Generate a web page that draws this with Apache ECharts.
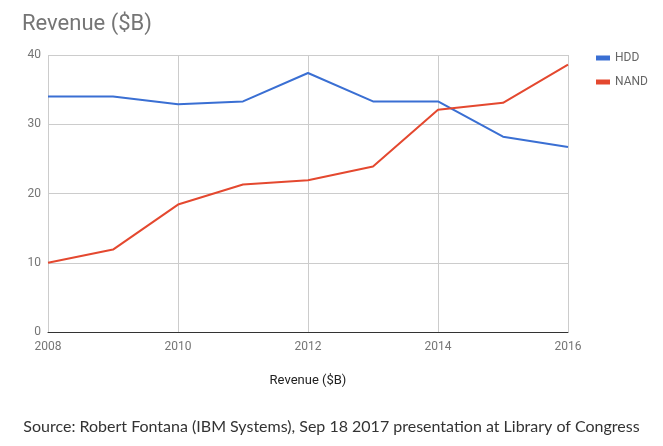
<!DOCTYPE html>
<html><head><meta charset="utf-8">
<script src="https://cdn.jsdelivr.net/npm/echarts@6/dist/echarts.min.js"></script>
<style>html,body{margin:0;padding:0;background:#fff}#c{width:663px;height:446px}</style>
</head><body><div id="c"></div>
<script>
const years = [2008, 2009, 2010, 2011, 2012, 2013, 2014, 2015, 2016];
const hdd = [34.0, 34.0, 32.9, 33.3, 37.4, 33.3, 33.3, 28.2, 26.7];
const nand = [10.0, 11.9, 18.4, 21.3, 21.9, 23.9, 32.1, 33.1, 38.6];
const seriesNames = ['HDD', 'NAND'];
const titleText = 'Revenue ($B)';
const axisName = 'Revenue ($B)';
const sourceText = 'Source: Robert Fontana (IBM Systems), Sep 18 2017 presentation at Library of Congress';

const chart = echarts.init(document.getElementById('c'), null, {renderer: 'canvas'});
chart.setOption({
  animation: false,
  backgroundColor: '#fff',
  title: [{
    text: titleText, left: 17, top: 8,
    textStyle: {fontFamily: 'Roboto', fontSize: 22, fontWeight: 'normal', color: '#757575'}
  }, {
    text: sourceText, left: 'center', top: 414,
    textStyle: {fontFamily: 'Lato', fontSize: 16, fontWeight: 'normal', color: '#333'}
  }],
  legend: {
    orient: 'vertical', left: 591, top: 47, itemWidth: 14, itemHeight: 5, itemGap: 12,
    icon: 'rect',
    textStyle: {fontFamily: 'Roboto', fontSize: 12, color: '#666', padding: [0, 0, 0, 0]},
    data: seriesNames
  },
  grid: {left: 48, right: 95, top: 55, bottom: 114, containLabel: false},
  xAxis: {
    type: 'value', min: 2008, max: 2016, interval: 2,
    name: axisName, nameLocation: 'middle', nameGap: 42,
    nameTextStyle: {fontFamily: 'Roboto', fontSize: 13, color: '#222'},
    axisLine: {show: true, lineStyle: {color: '#333', width: 1}},
    axisTick: {show: false},
    axisLabel: {fontFamily: 'Roboto', fontSize: 12, color: '#757575', margin: 9, formatter: v => String(v)},
    splitLine: {show: true, lineStyle: {color: '#ccc', width: 1}}
  },
  yAxis: {
    type: 'value', min: 0, max: 40, interval: 10,
    axisLine: {show: false},
    axisTick: {show: false},
    axisLabel: {fontFamily: 'Roboto', fontSize: 12, color: '#757575', margin: 7},
    splitLine: {show: true, lineStyle: {color: '#ccc', width: 1}}
  },
  series: [{
    name: seriesNames[0], type: 'line', data: years.map((y, i) => [y, hdd[i]]),
    showSymbol: false, symbol: 'none', lineStyle: {width: 2, color: '#3a6fd3'}, itemStyle: {color: '#3a6fd3'}
  }, {
    name: seriesNames[1], type: 'line', data: years.map((y, i) => [y, nand[i]]),
    showSymbol: false, symbol: 'none', lineStyle: {width: 2, color: '#e4482f'}, itemStyle: {color: '#e4482f'}
  }]
});
</script></body></html>
